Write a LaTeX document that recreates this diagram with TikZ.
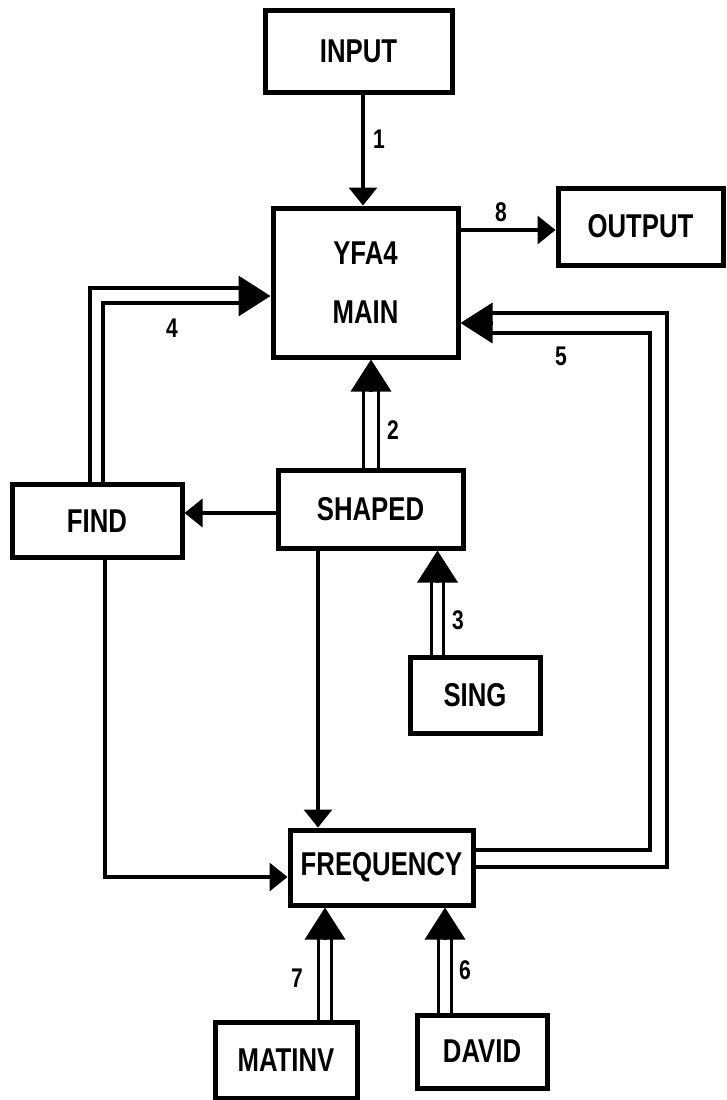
\documentclass[tikz,border=0pt]{standalone}
\usepackage{fontspec}
\setmainfont{Liberation Sans}
\usepackage{graphicx}
\usetikzlibrary{arrows.meta,calc}
\newcommand\cond[1]{\scalebox{0.78}[1]{#1}}
\begin{document}
\begin{tikzpicture}[x=1pt,y=-1pt,
  box/.style={draw,line width=5pt,inner sep=0pt,font=\fontsize{33}{59}\selectfont\bfseries,align=center},
  conn/.style={line width=3.5pt,line join=miter},
  tipS/.style={-{Triangle[length=18pt,width=28pt]}},
  tipB/.style={line width=3.5pt,-{Triangle[length=32pt,width=40pt]}},
  num/.style={font=\fontsize{27}{27}\selectfont\bfseries,inner sep=0pt}]
\useasboundingbox (0,0) rectangle (727,1100);
% boxes
\node[box,minimum width=187pt,minimum height=82pt] (input) at (358.5,51) {\cond{INPUT}};
\node[box,minimum width=185pt,minimum height=149pt] (main) at (365.5,282.5) {\cond{YFA4}\\\cond{MAIN}};
\node[box,minimum width=165pt,minimum height=77pt] (output) at (640.5,226.5) {\cond{OUTPUT}};
\node[box,minimum width=170pt,minimum height=73pt] (find) at (97,521) {\cond{FIND}};
\node[box,minimum width=185pt,minimum height=78pt] (shaped) at (370.5,509) {\cond{SHAPED}};
\node[box,minimum width=130pt,minimum height=76pt] (sing) at (475,695) {\cond{SING}};
\node[box,minimum width=183pt,minimum height=75pt] (freq) at (381.5,867.5) {\cond{FREQUENCY}};
\node[box,minimum width=142pt,minimum height=76pt] (matinv) at (286,1060) {\cond{MATINV}};
\node[box,minimum width=130pt,minimum height=73pt] (david) at (482,1051.5) {\cond{DAVID}};
% guides
\coordinate (g1) at (363,230);
\coordinate (o5a) at (667,867);
\coordinate (o5b) at (667,313);
\coordinate (i5a) at (650,850);
\coordinate (i5b) at (650,333);
\coordinate (h5) at (0,323);
\coordinate (o4) at (90,288);
\coordinate (i4) at (103,303);
\coordinate (h4) at (0,296);
\coordinate (l2a) at (363.5,0);
\coordinate (l2b) at (378.5,0);
\coordinate (h2) at (371,0);
\coordinate (l3a) at (431.5,0);
\coordinate (l3b) at (443.5,0);
\coordinate (h3) at (437.5,0);
\coordinate (l7a) at (318.5,0);
\coordinate (l7b) at (331.5,0);
\coordinate (h7) at (325,0);
\coordinate (l6a) at (438.5,0);
\coordinate (l6b) at (451.5,0);
\coordinate (h6) at (445,0);
\coordinate (sf) at (318,513);
\coordinate (ff) at (105,877);
% single arrows
\draw[conn,tipS] (input.south -| g1) -- (main.north -| g1);
\draw[conn,tipS] (main.east |- g1) -- (output.west |- g1);
\draw[conn,tipS] (shaped.west |- sf) -- (find.east |- sf);
\draw[conn,tipS] (shaped.south -| sf) -- (freq.north -| sf);
\draw[conn,tipS] (find.south -| ff) -- (ff) -- (freq.west |- ff);
% double arrow 5
\draw[conn] (freq.east |- o5a) -- (o5a) -- (o5b) -- ($(main.east |- o5b)+(30,0)$);
\draw[conn] (freq.east |- i5a) -- (i5a) -- (i5b) -- ($(main.east |- i5b)+(30,0)$);
\draw[tipB] ($(main.east |- h5)+(32,0)$) -- (main.east |- h5);
% double arrow 4
\draw[conn] (find.north -| o4) -- (o4) -- ($(main.west |- o4)+(-30,0)$);
\draw[conn] (find.north -| i4) -- (i4) -- ($(main.west |- i4)+(-30,0)$);
\draw[tipB] ($(main.west |- h4)+(-32,0)$) -- (main.west |- h4);
% double arrow 2
\draw[conn] (shaped.north -| l2a) -- ($(main.south -| l2a)+(0,30)$);
\draw[conn] (shaped.north -| l2b) -- ($(main.south -| l2b)+(0,30)$);
\draw[tipB] ($(main.south -| h2)+(0,32)$) -- (main.south -| h2);
% double arrow 3
\draw[conn] (sing.north -| l3a) -- ($(shaped.south -| l3a)+(0,30)$);
\draw[conn] (sing.north -| l3b) -- ($(shaped.south -| l3b)+(0,30)$);
\draw[tipB] ($(shaped.south -| h3)+(0,32)$) -- (shaped.south -| h3);
% double arrow 7
\draw[conn] (matinv.north -| l7a) -- ($(freq.south -| l7a)+(0,30)$);
\draw[conn] (matinv.north -| l7b) -- ($(freq.south -| l7b)+(0,30)$);
\draw[tipB] ($(freq.south -| h7)+(0,32)$) -- (freq.south -| h7);
% double arrow 6
\draw[conn] (david.north -| l6a) -- ($(freq.south -| l6a)+(0,30)$);
\draw[conn] (david.north -| l6b) -- ($(freq.south -| l6b)+(0,30)$);
\draw[tipB] ($(freq.south -| h6)+(0,32)$) -- (freq.south -| h6);
% labels
\node[num] (n1) at (379,139) {\cond{1}};
\node[num] (n8) at (501,212) {\cond{8}};
\node[num] (n4) at (172,328) {\cond{4}};
\node[num] (n5) at (561,356) {\cond{5}};
\node[num] (n2) at (393,430) {\cond{2}};
\node[num] (n3) at (458,620) {\cond{3}};
\node[num] (n7) at (297,978) {\cond{7}};
\node[num] (n6) at (465,970) {\cond{6}};
\end{tikzpicture}
\end{document}
